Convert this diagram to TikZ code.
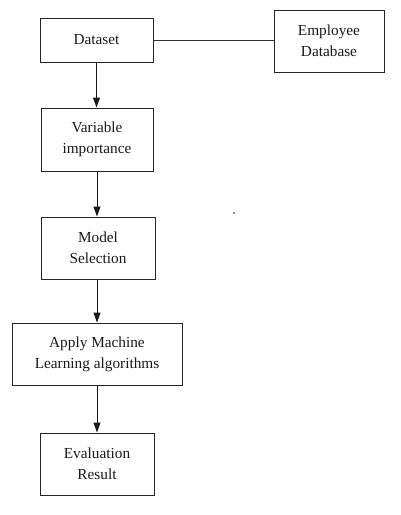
\documentclass[tikz,border=0pt]{standalone}
\usepackage{fontspec}
\setmainfont{Liberation Serif}
\usetikzlibrary{arrows.meta}
\begin{document}
\begin{tikzpicture}[x=1pt,y=-1pt,
  box/.style={draw=black!85, line width=1pt, align=center, inner sep=0pt,
    font=\fontsize{15.3}{21}\selectfont, text=black!90},
  arr/.style={-{Triangle[length=10pt,width=7pt]}, line width=1pt, draw=black!90},
  link/.style={line width=1pt, draw=black!80}]
\useasboundingbox (0,0) rectangle (401,515);
\node[box, minimum width=113pt, minimum height=44pt] (ds) at (96.5,40) {Dataset};
\node[box, minimum width=110pt, minimum height=62pt] (emp) at (329,41) {Employee\\Database};
\node[box, minimum width=112pt, minimum height=63pt] (vi) at (97,139.5) {Variable\\importance};
\node[box, minimum width=114pt, minimum height=62pt] (ms) at (98,248) {Model\\Selection};
\node[box, minimum width=170pt, minimum height=62pt] (ml) at (97,354) {Apply Machine\\Learning algorithms};
\node[box, minimum width=114pt, minimum height=62pt] (ev) at (97,464) {Evaluation\\Result};
\draw[link] (ds.east) -- (ds.east -| emp.west);
\draw[arr] (ds.south) -- (ds.south |- vi.north);
\draw[arr] (vi.south) -- (vi.south |- ms.north);
\draw[arr] (vi.south |- ms.south) -- (vi.south |- ml.north);
\draw[arr] (ml.south) -- (ml.south |- ev.north);
\fill[blue] (234,213) circle (0.8pt);
\end{tikzpicture}
\end{document}
